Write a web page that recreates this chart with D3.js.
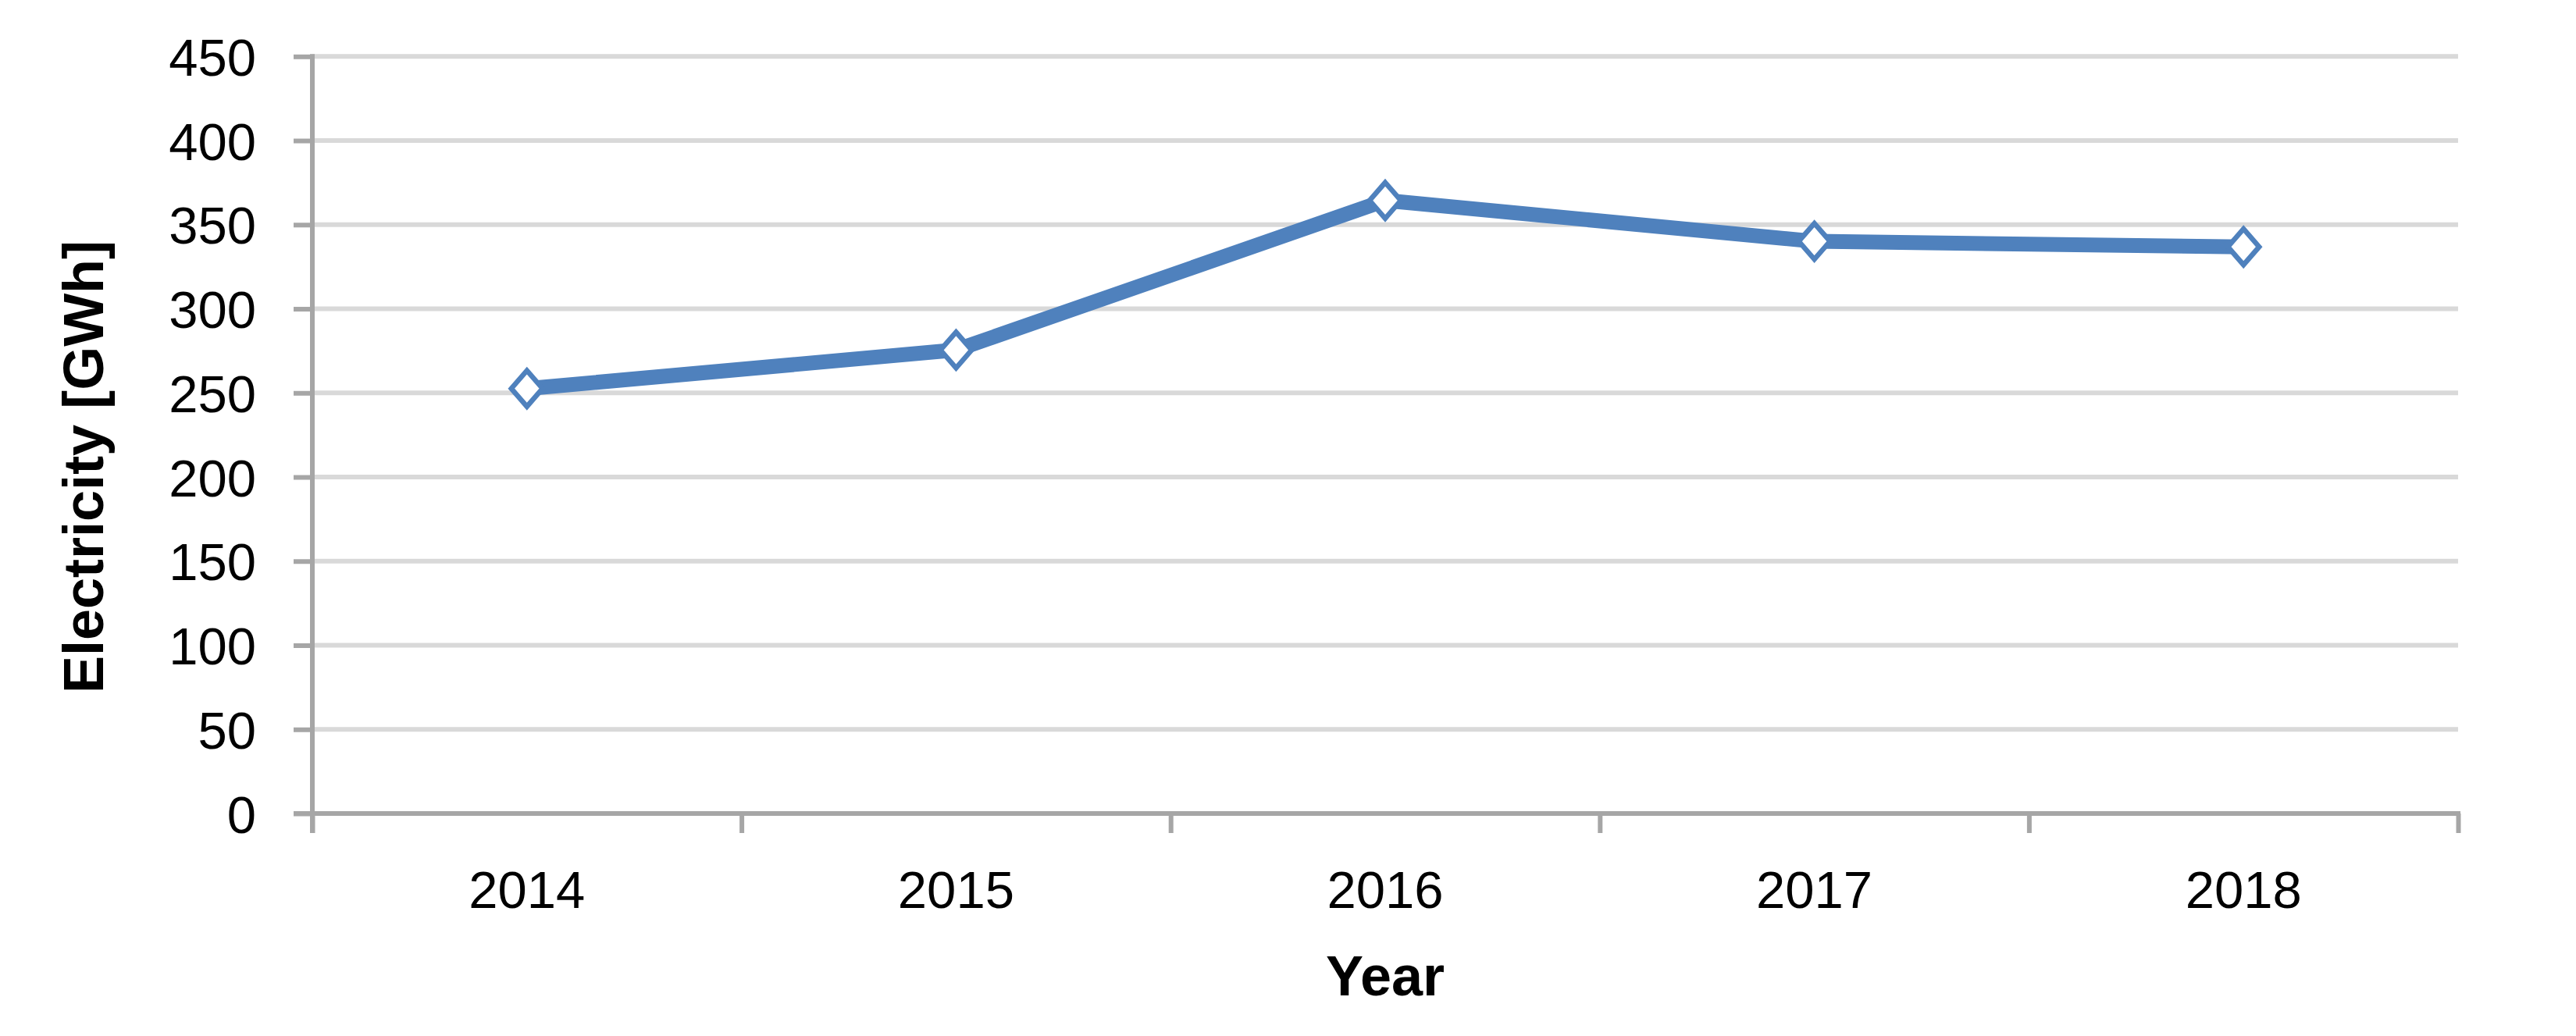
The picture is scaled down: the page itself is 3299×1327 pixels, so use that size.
<!DOCTYPE html>
<html>
<head>
<meta charset="utf-8">
<script src="https://cdn.jsdelivr.net/npm/d3@7"></script>
<style>
    body { margin: 0; background: #ffffff; }
    svg { display: block; font-family: "Liberation Sans", Arial, sans-serif; }
</style>
</head>
<body>
<svg id="chart" width="3299" height="1327"></svg>
<script>
// data
const years = ["2014", "2015", "2016", "2017", "2018"]
const electricity = [252.6, 275.5, 364.4, 340.1, 336.8]
const yTicks = [0, 50, 100, 150, 200, 250, 300, 350, 400, 450]

const axisColor = "#a6a6a6"
const gridColor = "#d9d9d9"
const lineColor = "#4f81bd"

const size = {left: 400, right: 3148, top: 72.3, bottom: 1042}

const svg = d3.select("#chart")

// scales
const xBand = d3.scaleBand()
    .domain(years)
    .range([size.left, size.right])
    .padding(0)

const xEdge = d3.scaleLinear()
    .domain([0, years.length])
    .range([size.left, size.right])

const yScale = d3.scaleLinear()
    .domain([0, 450])
    .range([size.bottom, size.top])

// gridlines
svg.append("g")
    .selectAll("line")
    .data(yTicks.filter(d => d > 0))
    .join("line")
    .attr("x1", size.left)
    .attr("x2", size.right)
    .attr("y1", d => yScale(d))
    .attr("y2", d => yScale(d))
    .attr("stroke", gridColor)
    .attr("stroke-width", 6)

// y axis (ticks + labels)
const yAxis = svg.append("g")
    .attr("transform", `translate(${size.left},0)`)
    .call(d3.axisLeft(yScale).tickValues(yTicks).tickSize(24).tickSizeOuter(0).tickPadding(48))
yAxis.select(".domain").remove()
yAxis.selectAll(".tick line").attr("stroke", axisColor).attr("stroke-width", 6)
yAxis.selectAll(".tick text")
    .attr("fill", "#000")
    .style("font-size", "67px")
    .attr("dy", "0.36em")

// x axis ticks at category edges
const xAxis = svg.append("g")
    .attr("transform", `translate(0,${size.bottom})`)
    .call(d3.axisBottom(xEdge).tickValues(d3.range(years.length + 1)).tickSize(25).tickSizeOuter(0).tickFormat(""))
xAxis.select(".domain").remove()
xAxis.selectAll(".tick line").attr("stroke", axisColor).attr("stroke-width", 6)

// axis lines
svg.append("line")
    .attr("x1", size.left).attr("x2", size.left)
    .attr("y1", size.top - 3).attr("y2", size.bottom + 25)
    .attr("stroke", axisColor).attr("stroke-width", 6)
svg.append("line")
    .attr("x1", size.left - 24).attr("x2", size.right + 3)
    .attr("y1", size.bottom).attr("y2", size.bottom)
    .attr("stroke", axisColor).attr("stroke-width", 6)

// category labels
svg.append("g")
    .selectAll("text")
    .data(years)
    .join("text")
    .attr("x", d => xBand(d) + xBand.bandwidth() / 2)
    .attr("y", 1162.7)
    .attr("text-anchor", "middle")
    .style("font-size", "67px")
    .text(d => d)

// series line
const points = years.map((y, i) => [xBand(y) + xBand.bandwidth() / 2, yScale(electricity[i])])

svg.append("path")
    .datum(points)
    .attr("d", d3.line())
    .attr("fill", "none")
    .attr("stroke", lineColor)
    .attr("stroke-width", 19)
    .attr("stroke-linejoin", "round")

// diamond markers
const hw = 20, hh = 23
svg.append("g")
    .selectAll("path")
    .data(points)
    .join("path")
    .attr("d", d => `M${d[0]},${d[1] - hh}L${d[0] + hw},${d[1]}L${d[0]},${d[1] + hh}L${d[0] - hw},${d[1]}Z`)
    .attr("fill", "#fff")
    .attr("stroke", lineColor)
    .attr("stroke-width", 6.5)

// axis titles
svg.append("text")
    .attr("x", (size.left + size.right) / 2)
    .attr("y", 1275)
    .attr("text-anchor", "middle")
    .style("font-size", "72px")
    .style("font-weight", "bold")
    .text("Year")

svg.append("text")
    .attr("transform", "translate(132,598) rotate(-90)")
    .attr("text-anchor", "middle")
    .style("font-size", "72px")
    .style("font-weight", "bold")
    .text("Electricity [GWh]")
</script>
</body>
</html>
